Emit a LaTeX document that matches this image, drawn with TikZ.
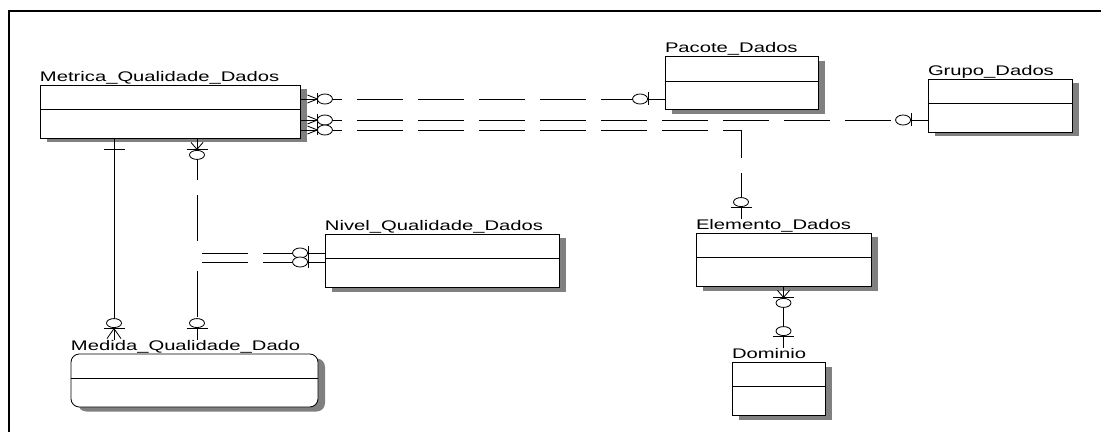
\documentclass[tikz,border=0pt]{standalone}
\usepackage{fontspec}
\setmainfont{Liberation Sans}[FakeStretch=1.45]
\usetikzlibrary{shadows}
\begin{document}
\begin{tikzpicture}[x=0.03cm, y=-0.03cm, line width=0.7pt,
  font=\fontsize{11.9}{14}\selectfont,
  entity/.style={draw, fill=white, inner sep=0, minimum height=1.59cm,
    drop shadow={shadow xshift=0.21cm, shadow yshift=-0.135cm, fill=black!50, opacity=1}},
  title/.style={anchor=base west, inner sep=0, yshift=0.105cm},
  rel/.style={dash pattern=on 1.38cm off 0.45cm, dash phase=0.12cm},
  zmany right/.pic={\draw (7,-4) -- (17,0) -- (7,4); \draw (17,-5.5) -- (17,5.5);
    \draw[fill=white] (24.5,0) ellipse [x radius=7.5, y radius=5];},
  zone left/.pic={\draw (-16,0) -- (0,0); \draw (-16,-6.5) -- (-16,6.5);
    \draw[fill=white] (-24.5,0) ellipse [x radius=7.5, y radius=5];},
  one down/.pic={\draw (-10.5,11) -- (10.5,11);},
  zmany down/.pic={\draw (0,0) -- (0,22); \draw (-6,4) -- (0,11) -- (6,4); \draw (-10.5,11) -- (10.5,11);
    \draw[fill=white] (0,16.5) ellipse [x radius=7.5, y radius=4.5];},
  zone up/.pic={\draw (0,-11) -- (0,0); \draw (-10.5,-11) -- (10.5,-11);
    \draw[fill=white] (0,-16.5) ellipse [x radius=7.5, y radius=4.5];},
  zmany up/.pic={\draw (0,-11) -- (0,0); \draw (-7,-1) -- (0,-11) -- (7,-1); \draw (-10.5,-11) -- (10.5,-11);
    \draw[fill=white] (0,-16.5) ellipse [x radius=7.5, y radius=4.5];}]
\useasboundingbox (0,0) rectangle (1101,432);
\draw[line width=1.2pt] (9,432) -- (9,11) -- (1101,11);
% entities
\node[entity, minimum width=7.8cm, label={[title, name=metricaL]north west:Metrica\_Qualidade\_Dados}] (metrica) at (170,111.5) {};
\node[entity, minimum width=7.41cm, rounded corners=0.25cm, label={[title, name=medidaL]north west:Medida\_Qualidade\_Dado}] (medida) at (194.5,380.5) {};
\node[entity, minimum width=7.02cm, label={[title, name=nivelL]north west:Nivel\_Qualidade\_Dados}] (nivel) at (442,260.5) {};
\node[entity, minimum width=4.59cm, label={[title, name=pacoteL]north west:Pacote\_Dados}] (pacote) at (741.5,83) {};
\node[entity, minimum width=4.32cm, label={[title, name=grupoL]north west:Grupo\_Dados}] (grupo) at (1000,105.5) {};
\node[entity, minimum width=5.25cm, label={[title, name=elementoL]north west:Elemento\_Dados}] (elemento) at (783.5,259.5) {};
\node[entity, minimum width=2.79cm, label={[title, name=dominioL]north west:Dominio}] (dominio) at (778.5,388.5) {};
\foreach \n in {metrica,medida,nivel,pacote,grupo,elemento,dominio}
  \draw ([yshift=-0.75cm]\n.north west) -- ([yshift=-0.75cm]\n.north east);
% relationships
\coordinate (bend) at (741,130);
\coordinate (jtop) at (197,242);
\coordinate (jbot) at (197,271);
\coordinate (jn) at (202,257.5);
\path[draw,rel] (metrica.east |- 0,99) -- (pacote.west |- 0,99);
\path[draw,rel] (metrica.east |- 0,120) -- (grupo.west |- 0,120);
\path[draw,rel] (metrica.east |- bend) -- (bend) -- (bend |- elementoL.north);
\path[draw] (metrica.south -| 114,0) -- (medidaL.north -| 114,0);
\path[draw,rel] (metrica.south -| jtop) -- (jtop);
\path[draw,rel,dash phase=0] (jbot) -- (medidaL.north -| jbot);
\path[draw,rel,dash phase=0] (jn |- 0,253) -- (nivel.west |- 0,253);
\path[draw,rel,dash phase=0] (jn |- 0,262) -- (nivel.west |- 0,262);
\path[draw] (elemento.south) -- (dominioL.north -| elemento.south);
% ends
\pic at (metrica.east |- 0,99) {zmany right};
\pic at (metrica.east |- 0,120) {zmany right};
\pic at (metrica.east |- bend) {zmany right};
\pic at (pacote.west |- 0,99) {zone left};
\pic at (grupo.west |- 0,120) {zone left};
\pic at (nivel.west |- 0,253) {zone left};
\pic at (nivel.west |- 0,262) {zone left};
\pic at (metrica.south -| 114,0) {one down};
\pic at (metrica.south -| jtop) {zmany down};
\pic at (medidaL.north -| 114,0) {zmany up};
\pic at (medidaL.north -| jbot) {zone up};
\pic at (bend |- elementoL.north) {zone up};
\pic at (elemento.south) {zmany down};
\pic at (dominioL.north -| elemento.south) {zone up};
\end{tikzpicture}
\end{document}
